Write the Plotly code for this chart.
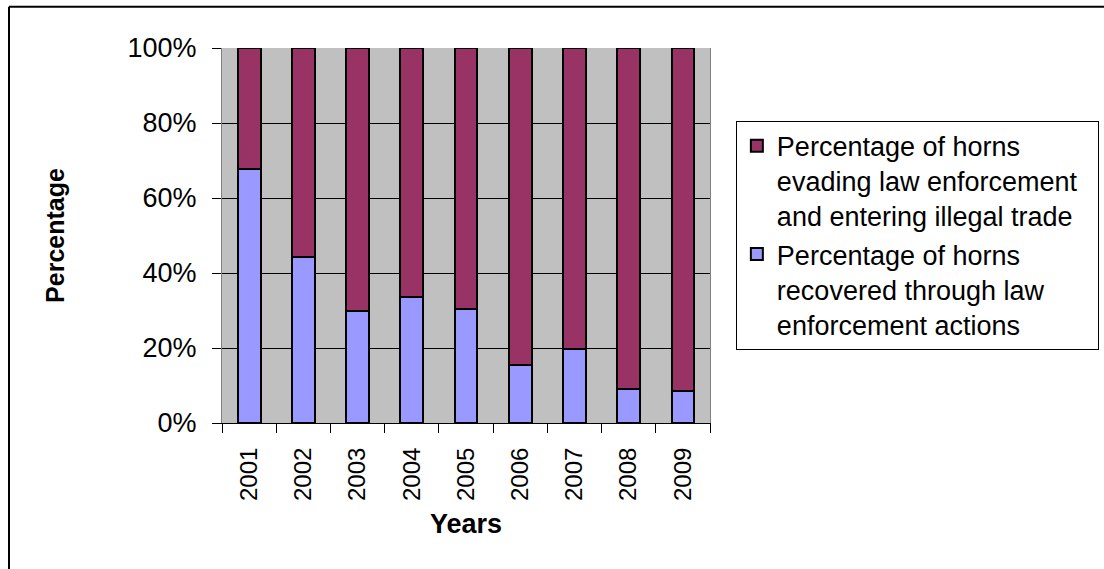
import plotly.graph_objects as go

# Share of rhino horns by outcome, per year (percent)
years = ["2001", "2002", "2003", "2004", "2005", "2006", "2007", "2008", "2009"]
recovered = [67.7, 44.3, 29.8, 33.6, 30.4, 15.5, 19.7, 9.1, 8.6]
evading = [round(100 - v, 1) for v in recovered]

recovered_name = "Percentage of horns<br>recovered through law<br>enforcement actions"
evading_name = "Percentage of horns<br>evading law enforcement&nbsp;&nbsp;<br>and entering illegal trade"

FONT = "Liberation Sans, Arial, sans-serif"

fig = go.Figure()
fig.add_trace(go.Bar(
    x=years, y=recovered, name=recovered_name,
    marker=dict(color="#9999FF", line=dict(color="black", width=2)),
))
fig.add_trace(go.Bar(
    x=years, y=evading, name=evading_name,
    marker=dict(color="#993366", line=dict(color="black", width=2)),
))

# Outer frame: top and left edges of the chart border
frame = dict(color="black", width=2)
shapes = [
    dict(type="line", xref="paper", yref="paper",
         x0=(9 - 222) / 488, x1=(1140 - 222) / 488,
         y0=(423.3 - 7) / 375, y1=(423.3 - 7) / 375, line=frame),
    dict(type="line", xref="paper", yref="paper",
         x0=(9 - 222) / 488, x1=(9 - 222) / 488,
         y0=(423.3 - 7) / 375, y1=(423.3 - 600) / 375, line=frame),
]

fig.update_layout(
    width=1104, height=569,
    barmode="stack", bargap=0.58,
    paper_bgcolor="white", plot_bgcolor="#C0C0C0",
    margin=dict(l=222, r=394, t=48, b=146, autoexpand=False),
    font=dict(family=FONT, size=25, color="black"),
    legend=dict(
        x=1.053, y=(423.3 - 121) / 375, xanchor="left", yanchor="top",
        traceorder="reversed", valign="top",
        bgcolor="white", bordercolor="black", borderwidth=1,
        font=dict(family=FONT, size=27),
    ),
    xaxis=dict(
        type="category", tickangle=-90, tickson="boundaries",
        ticks="outside", ticklen=9, tickcolor="black",
        showline=True, linecolor="black", linewidth=1,
        tickfont=dict(family=FONT, size=24),
        ticklabelstandoff=14,
        title=dict(text="<b>Years</b>", font=dict(family=FONT, size=27), standoff=14),
    ),
    yaxis=dict(
        range=[0, 100], dtick=20, ticksuffix="%",
        ticks="outside", ticklen=9, tickcolor="black",
        showgrid=True, gridcolor="black", gridwidth=1,
        showline=True, linecolor="#808080", linewidth=1, mirror=True,
        zeroline=False,
        tickfont=dict(family=FONT, size=27),
        ticklabelstandoff=10,
        title=dict(text="<b>Percentage</b>", font=dict(family=FONT, size=25), standoff=55),
    ),
    shapes=shapes,
)

fig.write_html("out.html")
